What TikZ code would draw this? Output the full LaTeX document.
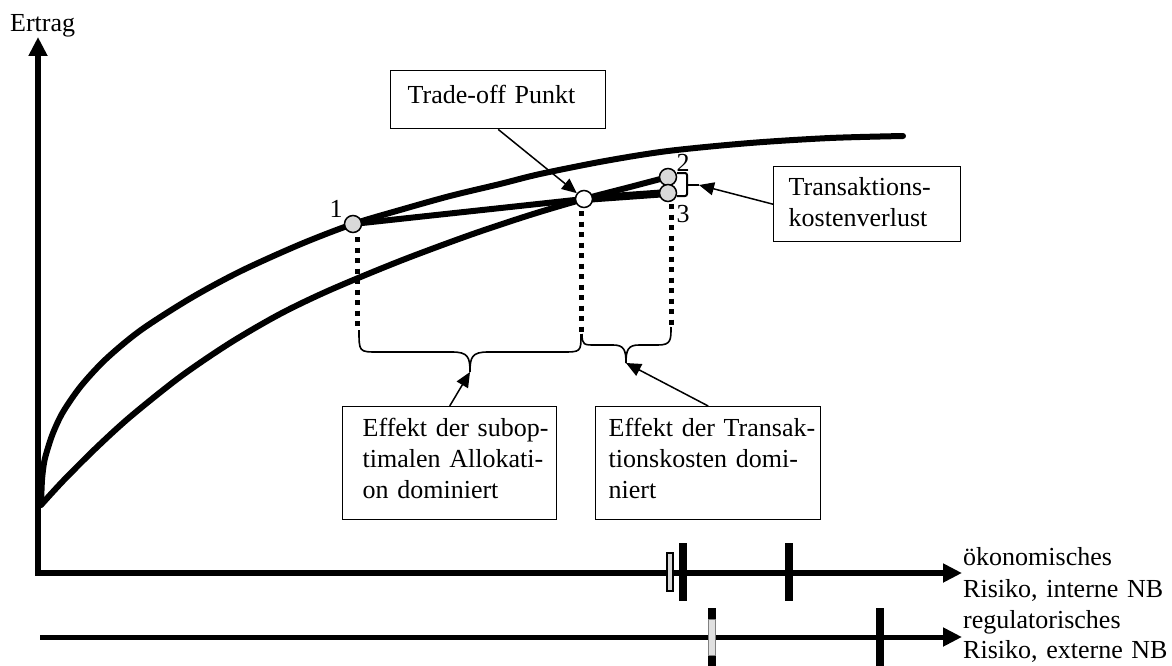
\documentclass[tikz,border=0pt]{standalone}
\usepackage{fontspec}
\setmainfont{Liberation Serif}
\usetikzlibrary{arrows.meta}
\begin{document}
\begin{tikzpicture}[x=1pt,y=-1pt,
  txt/.style={font=\fontsize{26pt}{31pt}\selectfont, inner sep=0pt},
  box/.style={draw, line width=1.4pt, anchor=north west, inner sep=0pt, align=left,
    font=\fontsize{26pt}{31pt}\selectfont},
  curve/.style={line width=6pt, line cap=round},
  axis/.style={line width=6pt, line join=miter},
  pt/.style={circle, draw, line width=1.5pt, fill=black!15, minimum size=17pt, inner sep=0pt},
  ptw/.style={pt, fill=white},
  dots/.style={line width=5pt, dash pattern=on 5pt off 5.5pt},
  ptr/.style={line width=1.5pt, -{Triangle[length=15pt,width=13pt]}},
  brc/.style={line width=1.6pt},
  tickmark/.style={line width=8pt}
]
\useasboundingbox (0,0) rectangle (1172,666);

% axes
\coordinate (O) at (38,573);
\coordinate (ytop) at (38,37);
\coordinate (x1end) at (962,573);
\coordinate (x2start) at (40,637);
\coordinate (x2end) at (962,637);
\draw[axis, {Triangle[length=19pt,width=18pt]}-{Triangle[length=19pt,width=18pt]}] (ytop) -- (O) -- (x1end);
\draw[line width=5pt, -{Triangle[length=19pt,width=18pt]}] (x2start) -- (x2end);

\node[txt, anchor=base west] (ylab) at (10,32) {Ertrag};
\node[txt, anchor=base west, text width=208pt, align=left, font=\fontsize{26pt}{32pt}\selectfont] (x1lab) at (963,565) {ökonomisches\\Risiko, interne NB};
\node[txt, anchor=base west, text width=208pt, align=left, font=\fontsize{26pt}{30pt}\selectfont] (x2lab) at (963,628) {regulatorisches\\Risiko, externe NB};

% ticks
\draw[tickmark] (683,543) -- (683,601);
\draw[tickmark] (789,543) -- (789,601);
\draw[line width=1.5pt, fill=black!15] (667,553) rectangle (673,591);
\draw[tickmark] (712,608) -- (712,666);
\draw[tickmark] (880,608) -- (880,666);
\draw[line width=0.8pt, draw=black!50, fill=black!12] (708.5,619) rectangle (715.5,655);

% points
\coordinate (c1) at (353,224);
\coordinate (ctp) at (584,199);
\coordinate (c2) at (668,177);
\coordinate (c3) at (668,193);

% curves
\draw[curve] plot[smooth, tension=0.5] coordinates {(41,505) (42,480) (44,463) (47,451) (53,433) (63,412) (81,386) (106,359) (141,330) (191,298) (241,271) (301,244) (353,224) (400,210) (450,196) (500,184) (540,174) (605,161) (668,151) (750,143) (830,138) (903,136)};
\draw[curve] plot[smooth, tension=0.5] coordinates {(41,505) (63,481) (95,449) (130,417) (180,377) (230,343) (280,314) (330,290) (400,261) (470,235) (530,215) (584,199) (630,187) (668,177)};
\draw[line width=6pt] (c1) -- (ctp);
\draw[line width=8pt] (ctp) -- (c3);

% dotted drops
\coordinate (d1) at (357,330);
\coordinate (dm) at (581,334);
\coordinate (d3) at (671,327);
\draw[dots] (357,237) -- (d1);
\draw[dots] (581,211) -- (dm);
\draw[dots] (671,204) -- (d3);

% braces
\coordinate (b1) at (470,372);
\coordinate (b2) at (626,363);
\draw[brc] (359,330) .. controls (359,352) and (359,352) .. (378,352) -- (452,352)
  .. controls (468,352) and (470,357) .. (b1)
  .. controls (470,357) and (472,352) .. (488,352) -- (562,352)
  .. controls (581,352) and (581,352) .. (581,334);
\draw[brc] (582,334) .. controls (582,345) and (584,345) .. (595,345) -- (613,345)
  .. controls (624,345) and (626,350) .. (b2)
  .. controls (626,350) and (628,345) .. (639,345) -- (658,345)
  .. controls (671,345) and (671,340) .. (671,327);
\coordinate (k1) at (699,185);
\draw[line width=2pt, rounded corners=2pt] (677,173) -- (687,173) -- (687,196) -- (677,196);
\draw[line width=2pt] (687,185) -- (k1);

% point nodes
\node[pt] (p1) at (c1) {};
\node[ptw] (tp) at (ctp) {};
\node[pt] (p2) at (c2) {};
\node[pt] (p3) at (c3) {};
\node[txt] (l1) at (336,209) {1};
\node[txt] (l2) at (683,163) {2};
\node[txt] (l3) at (683,214) {3};

% boxes
\node[box, text width=215pt, text height=33pt, text depth=25pt] (tb) at (390,70)
  {\hspace*{17pt}Trade-off Punkt};
\node[box, text width=187pt, text height=29pt, text depth=46pt] (tk) at (773,166)
  {\hspace*{15pt}Transaktions-\\\hspace*{15pt}kostenverlust};
\node[box, text width=214pt, text height=30pt, text depth=83pt] (e1) at (342,406)
  {\hspace*{20pt}Effekt der subop-\\\hspace*{20pt}timalen Allokati-\\\hspace*{20pt}on dominiert};
\node[box, text width=225pt, text height=30pt, text depth=83pt] (e2) at (595,406)
  {\hspace*{13pt}Effekt der Transak-\\\hspace*{13pt}tionskosten domi-\\\hspace*{13pt}niert};

% pointers
\draw[ptr] (tb.south) -- (tp);
\draw[ptr] (tk.west) -- (k1);
\draw[ptr] (e1.north) -- (b1);
\draw[ptr] (e2.north) -- (b2);
\end{tikzpicture}
\end{document}
